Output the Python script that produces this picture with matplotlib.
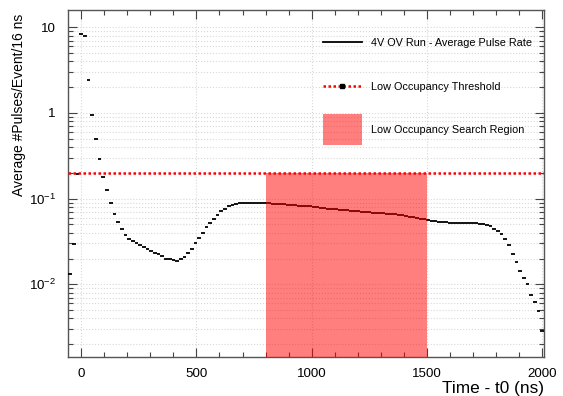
import numpy as np
import matplotlib
matplotlib.use('Agg')
import matplotlib.pyplot as plt
from matplotlib.lines import Line2D
from matplotlib.patches import Patch, Rectangle
from matplotlib.legend_handler import HandlerPatch
from matplotlib.ticker import MultipleLocator, LogLocator, FuncFormatter, NullFormatter

plt.rcParams['font.family'] = ['Liberation Sans', 'DejaVu Sans']
plt.rcParams['mathtext.fontset'] = 'custom'
plt.rcParams['mathtext.rm'] = 'Liberation Sans'
plt.rcParams['mathtext.it'] = 'Liberation Sans:italic'

# average pulse rate per 16 ns bin, first bin centred at -48 ns
bin_width = 16
t_first = -48
rate = [
    0.0133, 0.0298, 0.192, 8.3, 7.9, 2.41, 0.94, 0.493, 0.288, 0.181,
    0.125, 0.0889, 0.0668, 0.0529, 0.0438, 0.0373, 0.0341, 0.0317, 0.0306, 0.0290,
    0.0275, 0.0258, 0.0242, 0.0231, 0.0223, 0.0212, 0.0199, 0.0197, 0.0192, 0.0187,
    0.0197, 0.0210, 0.0234, 0.0261, 0.0301, 0.0344, 0.0396, 0.0462, 0.0519, 0.0578,
    0.0650, 0.0711, 0.0764, 0.0813, 0.0842, 0.0865, 0.0885, 0.0895, 0.0900, 0.0900,
    0.0895, 0.0892, 0.0888, 0.0885, 0.0880, 0.0875, 0.0868, 0.0862, 0.0856, 0.0850,
    0.0845, 0.0838, 0.0830, 0.0823, 0.0815, 0.0810, 0.0800, 0.0792, 0.0782, 0.0774,
    0.0766, 0.0758, 0.0750, 0.0742, 0.0735, 0.0728, 0.0722, 0.0716, 0.0711, 0.0705,
    0.0698, 0.0690, 0.0684, 0.0680, 0.0676, 0.0672, 0.0666, 0.0660, 0.0654, 0.0646,
    0.0638, 0.0628, 0.0618, 0.0607, 0.0596, 0.0584, 0.0572, 0.0562, 0.0555, 0.0548,
    0.0541, 0.0535, 0.0530, 0.0525, 0.0521, 0.0518, 0.0516, 0.0515, 0.0515, 0.0515,
    0.0514, 0.0512, 0.0505, 0.0497, 0.0475, 0.0446, 0.0423, 0.0386, 0.0334, 0.0285,
    0.0225, 0.0182, 0.0145, 0.0119, 0.00997, 0.00755, 0.00626, 0.00482, 0.00289,
]
threshold = 0.2
region = (800, 1500)
time = t_first + bin_width * np.arange(len(rate))

fig = plt.figure(figsize=(5.63, 3.96), dpi=100)
ax = fig.add_axes([0.1213, 0.0992, 0.8450, 0.8755])

ax.set_yscale('log')
ax.set_xlim(-56, 2008)
ax.set_ylim(0.00143, 15.9)

# grid
ax.grid(True, which='major', axis='x', color='#d8d8d8', linestyle=':', linewidth=0.8)
ax.grid(True, which='both', axis='y', color='#d8d8d8', linestyle=':', linewidth=0.8)
ax.set_axisbelow(True)

# histogram bins drawn as horizontal bars
ax.hlines(rate, time - bin_width / 2, time + bin_width / 2, colors='black', linewidth=1.3, zorder=3)

# search region
ax.fill_between(region, [ax.get_ylim()[0]] * 2, [threshold] * 2, color='red', alpha=0.5,
                linewidth=0, zorder=4)

# threshold
ax.axhline(threshold, color='red', linestyle=(0, (1, 1)), linewidth=1.8, zorder=5)

# ticks
ax.xaxis.set_major_locator(MultipleLocator(500))
ax.xaxis.set_minor_locator(MultipleLocator(100))
ax.yaxis.set_major_locator(LogLocator(base=10, numticks=10))
ax.yaxis.set_minor_locator(LogLocator(base=10, subs=np.arange(2, 10), numticks=20))
ax.yaxis.set_minor_formatter(NullFormatter())


def ylab(v, pos):
    if v >= 1:
        return '%d' % round(v)
    return r'$10^{%d}$' % round(np.log10(v))


ax.yaxis.set_major_formatter(FuncFormatter(ylab))
ax.tick_params(which='both', direction='in', top=True, right=True, labelsize=9.6, color='#444444')
ax.tick_params(which='major', length=6.5, width=0.8)
ax.tick_params(which='minor', length=3.5, width=0.8)
ax.tick_params(axis='x', pad=8)
ax.tick_params(axis='y', pad=9)
for s in ax.spines.values():
    s.set_color('#555555')
    s.set_linewidth(1.0)

ax.set_xlabel('Time - t0 (ns)', fontsize=12.4, loc='right', labelpad=1)
ax.set_ylabel('Average #Pulses/Event/16 ns', fontsize=10, loc='top')
ax.yaxis.set_label_coords(-0.089, 0.988)


def tall_box(legend, orig_handle, xdescent, ydescent, width, height, fontsize):
    # ROOT-like legend box, taller than the text row
    h = 22.3
    return Rectangle((-xdescent, -ydescent + height / 2 - h / 2), width, h)


handles = [
    Line2D([], [], color='black', linewidth=1.3),
    Line2D([], [], color='red', linestyle=(0, (1, 1)), linewidth=1.8, marker='s',
           markersize=3.5, markerfacecolor='black', markeredgecolor='black'),
    Patch(facecolor='red', alpha=0.5, linewidth=0),
]
labels = ['4V OV Run - Average Pulse Rate', 'Low Occupancy Threshold', 'Low Occupancy Search Region']
ax.legend(handles, labels, loc='upper left', bbox_to_anchor=(0.526, 0.931), frameon=False,
          fontsize=7.8, handlelength=3.6, labelspacing=3.08, handletextpad=0.8,
          borderaxespad=0, handler_map={Patch: HandlerPatch(patch_func=tall_box)})

fig.savefig('out.png', dpi=100)
